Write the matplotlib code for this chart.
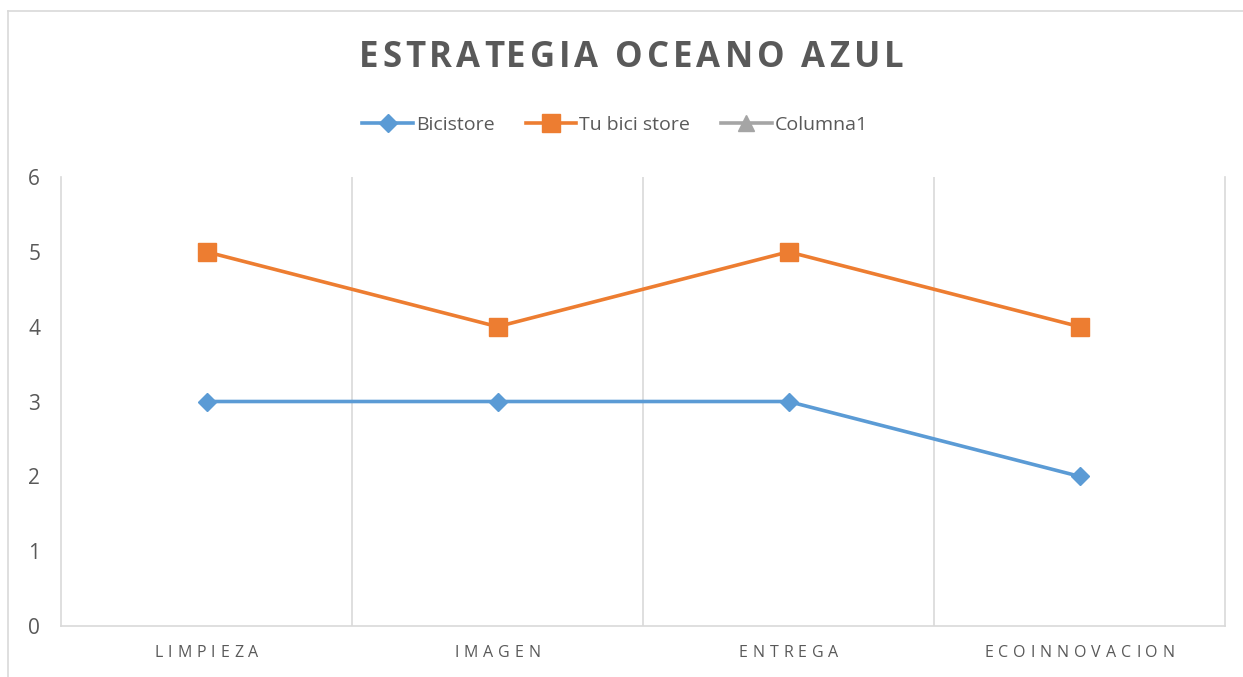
import numpy as np
import matplotlib
matplotlib.use("Agg")
import matplotlib.pyplot as plt
from matplotlib.font_manager import FontProperties
from matplotlib.transforms import IdentityTransform
from matplotlib.lines import Line2D

# data
categorias = ["LIMPIEZA", "IMAGEN", "ENTREGA", "ECOINNOVACION"]
bicistore = [3, 3, 3, 2]
tu_bici_store = [5, 4, 5, 4]
columna1 = [np.nan, np.nan, np.nan, np.nan]
titulo = "ESTRATEGIA OCEANO AZUL"

FONT = "Open Sans"
TXT = "#595959"
GRID = "#d9d9d9"

W, H = 1243, 677
fig = plt.figure(figsize=(W / 100, H / 100), dpi=100)
ax = fig.add_axes([61 / W, 1 - 626 / H, (1225 - 61) / W, (626 - 177) / H])

x = np.arange(len(categorias))
ax.plot(x, bicistore, color="#5b9bd5", lw=2.6, marker="D", ms=9.5, label="Bicistore")
ax.plot(x, tu_bici_store, color="#ed7d31", lw=2.6, marker="s", ms=12.5, label="Tu bici store")
ax.plot(x, columna1, color="#a5a5a5", lw=2.6, marker="^", ms=11, label="Columna1")

ax.set_xlim(-0.5, len(categorias) - 0.5)
ax.set_ylim(0, 6)
ax.set_yticks(range(0, 7))
ax.set_xticks(np.arange(0.5, len(categorias) - 0.5))
ax.xaxis.grid(True, color=GRID, lw=1.2)
ax.set_xticklabels([])
ax.tick_params(axis="both", length=0)
ax.tick_params(axis="y", labelsize=15, labelcolor=TXT, pad=15)
for lab in ax.get_yticklabels():
    lab.set_fontfamily(FONT)
for side in ["left", "bottom", "right"]:
    ax.spines[side].set_color(GRID)
    ax.spines[side].set_linewidth(1.2)
ax.spines["top"].set_visible(False)

# chart border (left and top visible in the crop)
fig.add_artist(Line2D([8 / W, 8 / W], [0, 1 - 11 / H], color=GRID, lw=1.2))
fig.add_artist(Line2D([8 / W, 1], [1 - 11 / H, 1 - 11 / H], color=GRID, lw=1.2))

leg = fig.legend(loc="center", bbox_to_anchor=(615 / W, 1 - 125 / H), ncol=3, frameon=False,
                 prop=FontProperties(family=FONT, size=14), handlelength=2.6,
                 handletextpad=0.15, columnspacing=1.6, labelcolor=TXT)

renderer = fig.canvas.get_renderer()


def spaced_text(xc, yc, s, spacing, prop, color):
    # letter-spaced text centred on pixel position (xc, yc)
    ref = renderer.get_text_width_height_descent("I", prop, ismath=False)[0]

    def width(t):
        if not t:
            return 0.0
        return renderer.get_text_width_height_descent(t + "I", prop, ismath=False)[0] - ref

    offs = [width(s[:i]) + i * spacing for i in range(len(s))]
    total = width(s) + (len(s) - 1) * spacing
    x0 = xc - total / 2
    for ch, o in zip(s, offs):
        if ch == " ":
            continue
        fig.text(x0 + o, yc, ch, transform=IdentityTransform(), fontproperties=prop,
                 color=color, ha="left", va="center")


title_prop = FontProperties(family=FONT, size=25, weight="bold")
spaced_text(631, H - 58, titulo, 4.0, title_prop, TXT)

cat_prop = FontProperties(family=FONT, size=11.5)
for xi, cat in zip(x, categorias):
    px = ax.transData.transform((xi, 0))[0]
    spaced_text(px, H - 653, cat, 5.0, cat_prop, TXT)

fig.savefig("out.png", dpi=100)
